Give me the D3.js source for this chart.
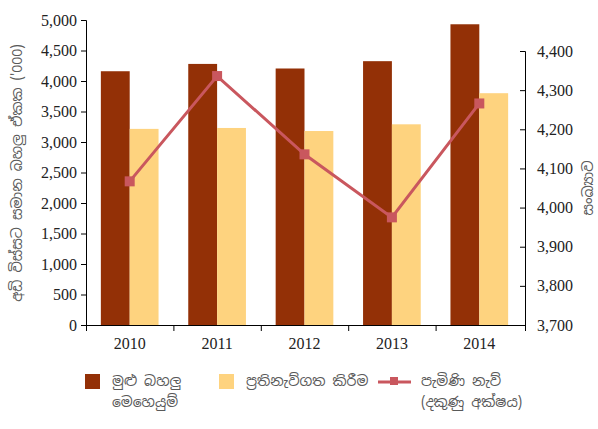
<!DOCTYPE html>
<html><head><meta charset="utf-8">
<script src="https://cdn.jsdelivr.net/npm/d3@7"></script>
<style>
body{margin:0;background:#fff;}
text{font-family:"Liberation Serif","Times New Roman",serif;}
.si{font-family:"Noto Sans Sinhala","Noto Sans","Liberation Sans",sans-serif;fill:#595959;}
</style></head>
<body><svg id="c" width="598" height="429"></svg>
<script>
const years = ["2010","2011","2012","2013","2014"];
const totalHandling = [4160, 4280, 4205, 4325, 4930];
const transshipment = [3215, 3230, 3180, 3290, 3800];
const shipArrivals = [4067, 4336, 4136, 3975, 4266];
const leftTicks = [0,500,1000,1500,2000,2500,3000,3500,4000,4500,5000];
const rightTicks = [3700,3800,3900,4000,4100,4200,4300,4400];
const legendLabels = [["මුළු බහලු","මෙහෙයුම්"],["ප්‍රතිනැව්ගත කිරීම"],["පැමිණි නැව්","(දකුණු අක්ෂය)"]];
const leftTitle = "අඩි විස්සට සමාන බහලු ඒකක ('000)";
const rightTitle = "සංඛ්‍යාව";
const colors = ["#933006","#fed37f","#c9575e"];

const svg = d3.select("#c");
const x0 = 86, x1 = 523, yB = 325;
const x = d3.scaleBand().domain(years).range([x0, x1]).paddingInner(0).paddingOuter(0);
const yL = d3.scaleLinear().domain([0,5000]).range([yB, 20]);
const yR = d3.scaleLinear().domain([3700,4400]).range([yB, 51]);
const bw = x.bandwidth();
const barW = bw*0.33;

const g = svg.append("g");
g.selectAll(".b1").data(years).enter().append("rect")
  .attr("x", d=>x(d)+bw/2-barW).attr("width", barW)
  .attr("y", (d,i)=>yL(totalHandling[i])).attr("height",(d,i)=>yB-yL(totalHandling[i]))
  .attr("fill", colors[0]);
g.selectAll(".b2").data(years).enter().append("rect")
  .attr("x", d=>x(d)+bw/2).attr("width", barW)
  .attr("y", (d,i)=>yL(transshipment[i])).attr("height",(d,i)=>yB-yL(transshipment[i]))
  .attr("fill", colors[1]);

const fs = "16px";
const axL = svg.append("g").attr("transform",`translate(${x0},0)`)
  .call(d3.axisLeft(yL).tickValues(leftTicks).tickFormat(d3.format(",")).tickSize(5).tickPadding(4));
const axR = svg.append("g").attr("transform",`translate(${x1+2},0)`)
  .call(d3.axisRight(yR).tickValues(rightTicks).tickFormat(d3.format(",")).tickSizeInner(-5).tickSizeOuter(-5).tickPadding(12));
const axB = svg.append("g").attr("transform",`translate(0,${yB})`)
  .call(d3.axisBottom(x).tickSize(6).tickPadding(4));
axB.select(".domain").attr("d", `M${x0},0.5H${x1+2}`);
axB.selectAll(".tick line").remove();
axB.selectAll(".bt").data(years).enter().append("line")
  .attr("x1", d=>x(d)+0.5).attr("x2", d=>x(d)+0.5).attr("y1",0).attr("y2",6).attr("stroke","#000");
axL.select(".domain").attr("d", `M-5,${yL(5000)}.5H0.5V${yB}`);
axR.select(".domain").attr("d", `M-5,${yR(4400)}.5H0.5V${yB+6}`);
[axL,axR,axB].forEach(a=>{
  a.selectAll("text").style("font-size",fs).style("font-family","Liberation Serif").attr("fill","#222");
  a.selectAll("line,path").attr("stroke","#000");
});
axB.selectAll("text").attr("dy","0.85em");

const line = d3.line().x((d,i)=>x(years[i])+bw/2).y(d=>yR(d));
svg.append("path").datum(shipArrivals).attr("d",line).attr("fill","none")
  .attr("stroke",colors[2]).attr("stroke-width",3);
svg.selectAll(".m").data(shipArrivals).enter().append("rect")
  .attr("x",(d,i)=>x(years[i])+bw/2-5).attr("y",d=>yR(d)-5).attr("width",10).attr("height",10)
  .attr("fill",colors[2]);

svg.append("text").attr("class","si").attr("transform","translate(22,173) rotate(-90)")
  .attr("text-anchor","middle").style("font-size","14px").text(leftTitle);
svg.append("text").attr("class","si").attr("transform","translate(593,188) rotate(-90)")
  .attr("text-anchor","middle").style("font-size","14px").text(rightTitle);

const lx = [85, 219, 378];
const tx = [112, 246, 421];
svg.append("rect").attr("x",lx[0]).attr("y",374).attr("width",15).attr("height",15).attr("fill",colors[0]);
svg.append("rect").attr("x",lx[1]).attr("y",374).attr("width",15).attr("height",15).attr("fill",colors[1]);
svg.append("line").attr("x1",lx[2]).attr("x2",lx[2]+33).attr("y1",382).attr("y2",382).attr("stroke",colors[2]).attr("stroke-width",3);
svg.append("rect").attr("x",lx[2]+12).attr("y",377).attr("width",8).attr("height",8).attr("fill",colors[2]);
legendLabels.forEach((lab,i)=>{
  lab.forEach((t,j)=>{
    svg.append("text").attr("class","si").attr("x",tx[i]).attr("y",386+j*21)
      .style("font-size","14px").text(t);
  });
});
</script></body></html>
